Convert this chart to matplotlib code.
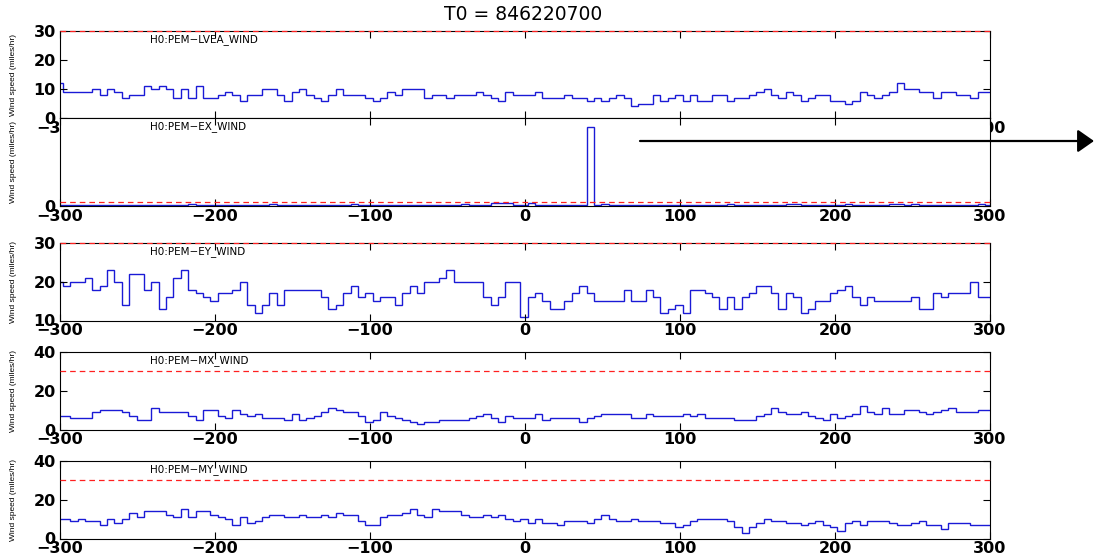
import numpy as np
import matplotlib
matplotlib.use("Agg")
import matplotlib.pyplot as plt
from matplotlib.patches import FancyArrowPatch

# GPS reference time and sample grid (seconds relative to T0)
T0 = 846220700
t_first_edge = -302.96
t_step = 4.76

channels = ["H0:PEM\u2212LVEA_WIND", "H0:PEM\u2212EX_WIND", "H0:PEM\u2212EY_WIND",
            "H0:PEM\u2212MX_WIND", "H0:PEM\u2212MY_WIND"]

lvea = [12, 9, 9, 9, 9, 10, 8, 10, 9, 7,
        8, 8, 11, 10, 11, 10, 7, 10, 7, 11,
        7, 7, 8, 9, 8, 6, 8, 8, 10, 10,
        8, 6, 9, 10, 8, 7, 6, 8, 10, 8,
        8, 8, 7, 6, 7, 9, 8, 10, 10, 10,
        7, 8, 8, 7, 8, 8, 8, 9, 8, 7,
        6, 9, 8, 8, 8, 9, 7, 7, 7, 8,
        7, 7, 6, 7, 6, 7, 8, 7, 4, 5,
        5, 8, 6, 7, 8, 6, 8, 6, 6, 8,
        8, 6, 7, 7, 8, 9, 10, 8, 7, 9,
        8, 6, 7, 8, 8, 6, 6, 5, 6, 9,
        8, 7, 8, 9, 12, 10, 10, 9, 9, 7,
        9, 9, 8, 8, 7, 9, 9]

ex = [0.3, 0.3, 0.3, 0.3, 0.3, 0.3, 0.3, 0.3, 0.3, 0.3,
      0.3, 0.3, 0.3, 0.3, 0.3, 0.3, 0.3, 0.3, 0.8, 0.3,
      0.3, 0.3, 0.3, 0.3, 0.3, 0.3, 0.3, 0.3, 0.3, 0.7,
      0.3, 0.3, 0.3, 0.3, 0.3, 0.3, 0.3, 0.3, 0.3, 0.3,
      0.7, 0.3, 0.3, 0.3, 0.3, 0.3, 0.3, 0.3, 0.3, 0.3,
      0.3, 0.3, 0.3, 0.3, 0.3, 0.6, 0.3, 0.3, 0.3, 1.0,
      1.0, 1.0, 0.3, 0.3, 0.9, 0.3, 0.3, 0.3, 0.3, 0.3,
      0.3, 0.3, 27.0, 0.3, 0.8, 0.3, 0.3, 0.3, 0.3, 0.3,
      0.3, 0.3, 0.3, 0.3, 0.3, 0.3, 0.3, 0.3, 0.3, 0.3,
      0.3, 0.7, 0.3, 0.3, 0.3, 0.3, 0.3, 0.3, 0.3, 0.8,
      0.8, 0.3, 0.3, 0.3, 0.3, 0.3, 0.3, 0.8, 0.3, 0.3,
      0.3, 0.3, 0.3, 0.8, 0.8, 0.3, 0.7, 0.3, 0.3, 0.3,
      0.3, 0.3, 0.3, 0.3, 0.3, 0.8, 0.3]

ey = [20, 19, 20, 20, 21, 18, 19, 23, 20, 14,
      22, 22, 18, 20, 13, 16, 21, 23, 18, 17,
      16, 15, 17, 17, 18, 20, 14, 12, 14, 17,
      14, 18, 18, 18, 18, 18, 16, 13, 14, 17,
      19, 16, 17, 15, 16, 16, 14, 17, 19, 17,
      20, 20, 21, 23, 20, 20, 20, 20, 16, 14,
      16, 20, 20, 11, 16, 17, 15, 13, 13, 15,
      17, 19, 17, 15, 15, 15, 15, 18, 15, 15,
      18, 16, 12, 13, 14, 12, 18, 18, 17, 16,
      13, 16, 13, 16, 17, 19, 19, 17, 13, 17,
      16, 12, 13, 15, 15, 17, 18, 19, 16, 14,
      16, 15, 15, 15, 15, 15, 16, 13, 13, 17,
      16, 17, 17, 17, 20, 16, 16]

mx = [7, 7, 6, 6, 6, 9, 10, 10, 10, 9,
      7, 5, 5, 11, 9, 9, 9, 9, 7, 5,
      10, 10, 7, 6, 10, 8, 7, 8, 6, 6,
      6, 5, 8, 5, 6, 7, 9, 11, 10, 9,
      9, 7, 4, 5, 9, 7, 6, 5, 4, 3,
      4, 4, 5, 5, 5, 5, 6, 7, 8, 6,
      4, 7, 6, 6, 6, 8, 5, 6, 6, 6,
      6, 4, 6, 7, 8, 8, 8, 8, 6, 6,
      8, 7, 7, 7, 7, 8, 7, 8, 6, 6,
      6, 6, 5, 5, 5, 7, 8, 11, 9, 8,
      8, 9, 7, 6, 5, 8, 6, 7, 8, 12,
      9, 8, 11, 8, 8, 10, 10, 9, 8, 9,
      10, 11, 9, 9, 9, 10, 10]

my = [10, 10, 9, 10, 9, 9, 7, 10, 8, 10,
      13, 11, 14, 14, 14, 12, 11, 15, 11, 14,
      14, 12, 11, 10, 7, 11, 8, 9, 11, 12,
      12, 11, 11, 12, 11, 11, 12, 11, 13, 12,
      12, 9, 7, 7, 11, 12, 12, 13, 15, 12,
      11, 15, 14, 14, 14, 12, 11, 11, 12, 11,
      12, 10, 9, 10, 8, 10, 8, 8, 7, 9,
      9, 9, 8, 10, 12, 10, 9, 9, 10, 9,
      9, 9, 8, 8, 6, 7, 9, 10, 10, 10,
      10, 9, 6, 3, 6, 8, 10, 9, 9, 8,
      8, 7, 8, 9, 7, 6, 4, 8, 9, 7,
      9, 9, 9, 8, 7, 7, 8, 9, 7, 7,
      5, 8, 8, 8, 7, 7, 7]

series = [lvea, ex, ey, mx, my]
thresholds = [30, 1.5, 30, 30, 30]
ylims = [(0, 30), (0, 30), (10, 30), (0, 40), (0, 40)]
yticks = [[0, 10, 20, 30], [0], [10, 20, 30], [0, 20, 40], [0, 20, 40]]
xticks = [-300, -200, -100, 0, 100, 200, 300]

W, H = 1094, 556
fig = plt.figure(figsize=(W / 100, H / 100), dpi=100)

# panel boxes in pixels: (top, bottom)
boxes = [(31, 118), (118, 206), (243, 320.5), (352, 429.5), (461, 538.5)]
left_px, right_px = 60, 990

blue = "#1a1ad6"
for vals, thr, ylim, yt, name, (top, bot) in zip(series, thresholds, ylims, yticks, channels, boxes):
    ax = fig.add_axes([left_px / W, (H - bot) / H, (right_px - left_px) / W, (bot - top) / H])
    ax.set_facecolor("white")
    vals = np.asarray(vals, dtype=float)
    edges = t_first_edge + t_step * np.arange(len(vals) + 1)
    ax.stairs(vals, edges, baseline=None, color=blue, lw=1.0)
    ax.axhline(thr, color="#ff2020", lw=0.9, ls=(0, (4.5, 3.2)), zorder=3, clip_on=False)
    ax.set_xlim(-300, 300)
    ax.set_ylim(*ylim)
    ax.set_xticks(xticks)
    ax.set_yticks(yt)
    ax.tick_params(direction="in", top=True, right=True, length=5, width=0.8,
                   labelsize=11.5, pad=2)
    for lab in ax.get_xticklabels() + ax.get_yticklabels():
        lab.set_fontweight("bold")
    ax.tick_params(axis="y", pad=3)
    for s in ax.spines.values():
        s.set_linewidth(0.8)
        s.set_color("black")
    ax.set_ylabel("Wind speed (miles/hr)", fontsize=6, family="Liberation Sans")
    ax.yaxis.set_label_coords(-0.046, 0.5)
    h_px = bot - top
    ax.text(0.097, 1 - 9 / h_px, name, transform=ax.transAxes, fontsize=7.5,
            family="DejaVu Sans", va="center", ha="left")

fig.text(523 / W, 1 - 15 / H, f"T0 = {T0}", ha="center", va="center",
         fontsize=13.5, family="DejaVu Sans")

arrow = FancyArrowPatch((640 / W, 1 - 141 / H), (1.0, 1 - 141 / H),
                        transform=fig.transFigure,
                        arrowstyle="-|>,head_length=0.5,head_width=0.35",
                        mutation_scale=20, lw=1.6, color="black",
                        shrinkA=0, shrinkB=0)
fig.add_artist(arrow)

fig.savefig("out.png", dpi=100, facecolor="white")
